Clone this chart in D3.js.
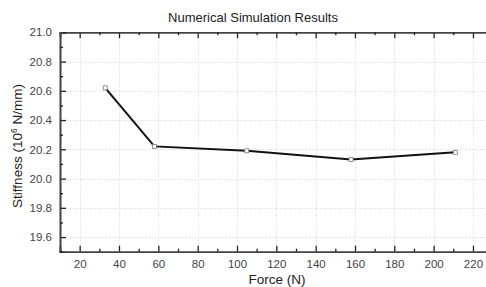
<!DOCTYPE html>
<html>
<head>
<meta charset="utf-8">
<script src="https://cdn.jsdelivr.net/npm/d3@7"></script>
<style>
  body { margin: 0; background: #fff; }
  text { font-family: "Liberation Sans", Arial, sans-serif; }
</style>
</head>
<body>
<svg id="chart" width="486" height="287"></svg>
<script>
// data
const force = [33, 58, 105, 158, 211];
const stiffness = [20.62, 20.22, 20.19, 20.13, 20.18];
const xTicks = [20, 40, 60, 80, 100, 120, 140, 160, 180, 200, 220];
const yTicks = [19.6, 19.8, 20.0, 20.2, 20.4, 20.6, 20.8, 21.0];

const svg = d3.select("#chart");
const W = 486, H = 287;
const plotLeft = 60, plotTop = 32.3, plotBottom = 251.7;

const x = d3.scaleLinear().domain([10, 230]).range([plotLeft, plotLeft + 220 * 1.9665]);
const y = d3.scaleLinear().domain([19.5, 21.0]).range([plotBottom, plotTop]);

// grid
const grid = svg.append("g").attr("stroke", "#d8d8d8").attr("stroke-dasharray", "1,1.5").attr("stroke-width", 1);
grid.selectAll("line.gx").data(xTicks).enter().append("line")
  .attr("x1", d => Math.round(x(d)) + 0.5).attr("x2", d => Math.round(x(d)) + 0.5)
  .attr("y1", plotTop).attr("y2", plotBottom);
grid.selectAll("line.gy").data(yTicks.filter(d => d < 21)).enter().append("line")
  .attr("y1", d => Math.round(y(d)) + 0.5).attr("y2", d => Math.round(y(d)) + 0.5)
  .attr("x1", plotLeft).attr("x2", W);

// axes (ticks pointing inward)
const xMinor = d3.range(30, 230, 20);
const yMinor = [19.5, 19.7, 19.9, 20.1, 20.3, 20.5, 20.7, 20.9];

const xAxis = svg.append("g").attr("transform", `translate(0,${plotBottom})`)
  .call(d3.axisBottom(x).tickValues(xTicks).tickSize(-6).tickPadding(8).tickFormat(d3.format("d")));
const xAxisMinor = svg.append("g").attr("transform", `translate(0,${plotBottom})`)
  .call(d3.axisBottom(x).tickValues(xMinor).tickSize(-3).tickFormat(""));
const xTop = svg.append("g").attr("transform", `translate(0,${plotTop})`)
  .call(d3.axisTop(x).tickValues(xTicks).tickSize(-6).tickFormat(""));
const xTopMinor = svg.append("g").attr("transform", `translate(0,${plotTop})`)
  .call(d3.axisTop(x).tickValues(xMinor).tickSize(-3).tickFormat(""));
const yAxis = svg.append("g").attr("transform", `translate(${plotLeft},0)`)
  .call(d3.axisLeft(y).tickValues(yTicks).tickSize(-6).tickPadding(8).tickFormat(d3.format(".1f")));
const yAxisMinor = svg.append("g").attr("transform", `translate(${plotLeft},0)`)
  .call(d3.axisLeft(y).tickValues(yMinor).tickSize(-3).tickFormat(""));

[xAxis, xAxisMinor, xTop, xTopMinor, yAxis, yAxisMinor].forEach(g => {
  g.select(".domain").attr("stroke", "#444").attr("stroke-width", 1.6);
  g.selectAll(".tick line").attr("stroke", "#222").attr("stroke-width", 1.3);
  g.selectAll(".tick text").attr("fill", "#444").style("font-size", "11.5px")
    .style("font-family", "'Liberation Sans', Arial, sans-serif");
});

// line + markers
const pts = force.map((f, i) => ({ f, s: stiffness[i] }));
svg.append("path").datum(pts)
  .attr("fill", "none").attr("stroke", "#111").attr("stroke-width", 2)
  .attr("d", d3.line().x(d => x(d.f)).y(d => y(d.s)));
svg.selectAll("rect.pt").data(pts).enter().append("rect")
  .attr("x", d => x(d.f) - 2).attr("y", d => y(d.s) - 2)
  .attr("width", 4).attr("height", 4)
  .attr("fill", "#fff").attr("stroke", "#777").attr("stroke-width", 0.8);

// titles
svg.append("text").attr("x", 253).attr("y", 22).attr("text-anchor", "middle")
  .attr("fill", "#222").style("font-size", "13px").text("Numerical Simulation Results");
svg.append("text").attr("x", 277).attr("y", 284).attr("text-anchor", "middle")
  .attr("fill", "#222").style("font-size", "13.5px").text("Force (N)");
const yl = svg.append("text").attr("transform", `translate(22,${(plotTop + plotBottom) / 2 + 4}) rotate(-90)`)
  .attr("text-anchor", "middle").attr("fill", "#222").style("font-size", "13.5px");
yl.append("tspan").text("Stiffness (10");
yl.append("tspan").attr("dy", -5).style("font-size", "8.5px").text("6");
yl.append("tspan").attr("dy", 5).text(" N/mm)");
</script>
</body>
</html>
